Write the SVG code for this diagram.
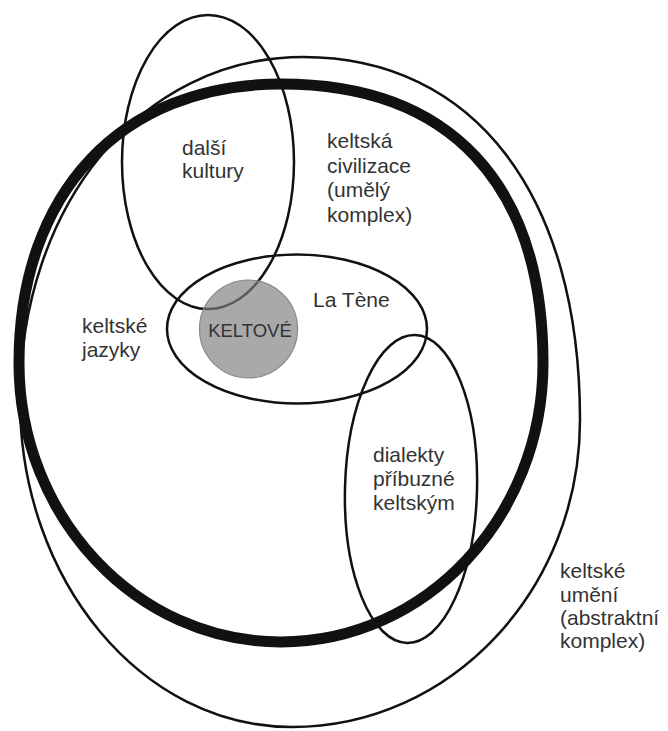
<svg xmlns="http://www.w3.org/2000/svg" width="668" height="731" viewBox="0 0 668 731">
<style>
.ln{fill:none;stroke:#111;stroke-width:2.5}
.thick{fill:none;stroke:#111;stroke-width:11}
.t{font-family:"Liberation Sans",Arial,sans-serif;font-size:21px;fill:#333}
.k{font-family:"Liberation Sans",Arial,sans-serif;font-size:18.5px;fill:#333;text-anchor:middle}
</style>
<rect width="668" height="731" fill="#fff"/>
<g id="umeni">
<path class="ln" d="M580,420 C580,195 474,57 303,57 C141,57 20,206 20,400 C20,580.6 141.8,727 292,727 C451,727 580,589.6 580,420 Z"/>
<text class="t" x="560" y="578">keltské</text>
<text class="t" x="560" y="602">umění</text>
<text class="t" x="560" y="625">(abstraktní</text>
<text class="t" x="560" y="648">komplex)</text>
</g>
<g id="civilizace">
<path class="thick" d="M543,363 C543,184 450,84 281,84 C121,84 19,193 19,363 C19,517 136.3,642 281,642 C425.7,642 543,517 543,363 Z"/>
<text class="t" x="327" y="148">keltská</text>
<text class="t" x="327" y="173">civilizace</text>
<text class="t" x="327" y="197">(umělý</text>
<text class="t" x="327" y="222">komplex)</text>
</g>
<g id="jazyky">
<text class="t" x="82" y="333">keltské</text>
<text class="t" x="82" y="357">jazyky</text>
</g>
<g id="kultury">
<ellipse class="ln" cx="208" cy="162" rx="86" ry="147"/>
<text class="t" x="182" y="155">další</text>
<text class="t" x="182" y="178">kultury</text>
</g>
<g id="latene">
<ellipse class="ln" cx="297" cy="329" rx="130" ry="74.5"/>
<text class="t" x="313" y="307">La Tène</text>
</g>
<g id="dialekty">
<ellipse class="ln" cx="411" cy="489" rx="66" ry="154" transform="rotate(1.5 411 489)"/>
<text class="t" x="373" y="462">dialekty</text>
<text class="t" x="373" y="486">příbuzné</text>
<text class="t" x="373" y="510">keltským</text>
</g>
<g id="keltove">
<circle cx="248.5" cy="329" r="49" fill="#7f7f7f" fill-opacity="0.67" stroke="#888" stroke-width="1.2"/>
<text class="k" x="250" y="337">KELTOVÉ</text>
</g>
<g id="connectors"/>
</svg>
